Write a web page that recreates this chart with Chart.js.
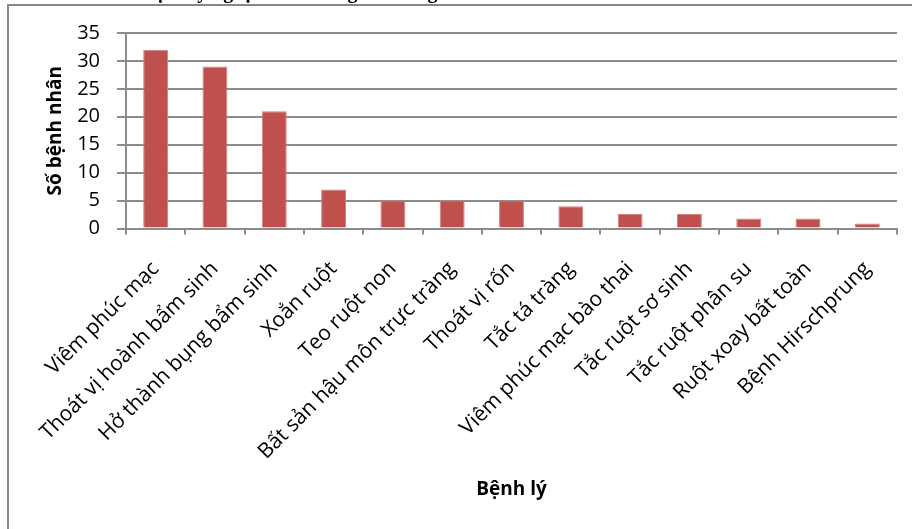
<!DOCTYPE html>
<html>
<head>
<meta charset="utf-8">
<script src="https://cdn.jsdelivr.net/npm/chart.js@4/dist/chart.umd.min.js"></script>
<style>
  html, body { margin: 0; padding: 0; background: #ffffff; }
  #wrap { width: 912px; height: 529px; }
</style>
</head>
<body>
<div id="wrap"><canvas id="c" width="912" height="529"></canvas></div>
<script>
// Disease groups and patient counts
const categories = [
  'Viêm phúc mạc',
  'Thoát vị hoành bẩm sinh',
  'Hở thành bụng bẩm sinh',
  'Xoắn ruột',
  'Teo ruột non',
  'Bất sản hậu môn trực tràng',
  'Thoát vị rốn',
  'Tắc tá tràng',
  'Viêm phúc mạc bào thai',
  'Tắc ruột sơ sinh',
  'Tắc ruột phân su',
  'Ruột xoay bất toàn',
  'Bệnh Hirschprung'
];
const patients = [32, 29, 21, 7, 5, 5, 5, 4, 2.6, 2.6, 1.8, 1.8, 0.9];
const yTicks = [0, 5, 10, 15, 20, 25, 30, 35];

const titleText = 'Phân bố bệnh lý ngoại khoa trong nhóm nghiên cứu';
const xTitle = 'Bệnh lý';
const yTitle = 'Số bệnh nhân';

const gridGray = '#8c8c8c';
const labelFont = '"Open Sans", "Noto Sans", sans-serif';

// White page, heading above the frame, and the frame edges
const framePlugin = {
  id: 'frame',
  beforeDraw(chart) {
    const ctx = chart.ctx;
    ctx.save();
    ctx.fillStyle = '#ffffff';
    ctx.fillRect(0, 0, chart.width, chart.height);
    ctx.restore();
  },
  afterDraw(chart) {
    const ctx = chart.ctx;
    ctx.save();
    ctx.font = 'bold 20px "Liberation Serif", "DejaVu Serif", serif';
    ctx.fillStyle = '#000000';
    ctx.textBaseline = 'alphabetic';
    const prefix = 'Phân bố b';
    const x0 = 160 - ctx.measureText(prefix).width - ctx.measureText('ệ').width / 2;
    ctx.fillText(titleText, x0, -2);

    ctx.strokeStyle = '#878787';
    ctx.lineWidth = 2;
    ctx.beginPath();
    ctx.moveTo(8, 529);
    ctx.lineTo(8, 5);
    ctx.lineTo(912, 5);
    ctx.stroke();
    ctx.restore();
  }
};

new Chart(document.getElementById('c'), {
  type: 'bar',
  data: {
    labels: categories,
    datasets: [{
      data: patients,
      backgroundColor: '#C0504D',
      borderColor: '#d4807e',
      borderWidth: 1,
      barPercentage: 0.42,
      categoryPercentage: 1
    }]
  },
  options: {
    responsive: false,
    animation: false,
    layout: { padding: { left: 0, top: 33, right: 15, bottom: 0 } },
    plugins: {
      legend: { display: false },
      tooltip: { enabled: false },
      title: { display: false }
    },
    scales: {
      x: {
        offset: true,
        afterFit(scale) { scale.height = 300.5; },
        grid: {
          offset: true,
          drawOnChartArea: false,
          drawTicks: true,
          tickLength: 6,
          color: gridGray,
          lineWidth: 2
        },
        border: { display: true, color: gridGray, width: 2 },
        ticks: {
          autoSkip: false,
          minRotation: 45,
          maxRotation: 45,
          padding: 22,
          color: '#000000',
          font: { family: labelFont, size: 21 }
        },
        title: {
          display: true,
          text: xTitle,
          color: '#000000',
          padding: { top: 0, bottom: 28 },
          font: { family: labelFont, size: 19, weight: 'bold' }
        }
      },
      y: {
        min: 0,
        max: 35,
        afterFit(scale) { scale.width = 126; },
        afterBuildTicks(scale) { scale.ticks = yTicks.map(v => ({ value: v })); },
        grid: {
          drawOnChartArea: true,
          drawTicks: true,
          tickLength: 9,
          color: gridGray,
          lineWidth: 2
        },
        border: { display: true, color: gridGray, width: 2 },
        ticks: {
          padding: 17,
          color: '#000000',
          font: { family: labelFont, size: 20 }
        },
        title: {
          display: true,
          text: yTitle,
          color: '#000000',
          padding: { top: 44, bottom: 0 },
          font: { family: labelFont, size: 19, weight: 'bold' }
        }
      }
    }
  },
  plugins: [framePlugin]
});
</script>
</body>
</html>
